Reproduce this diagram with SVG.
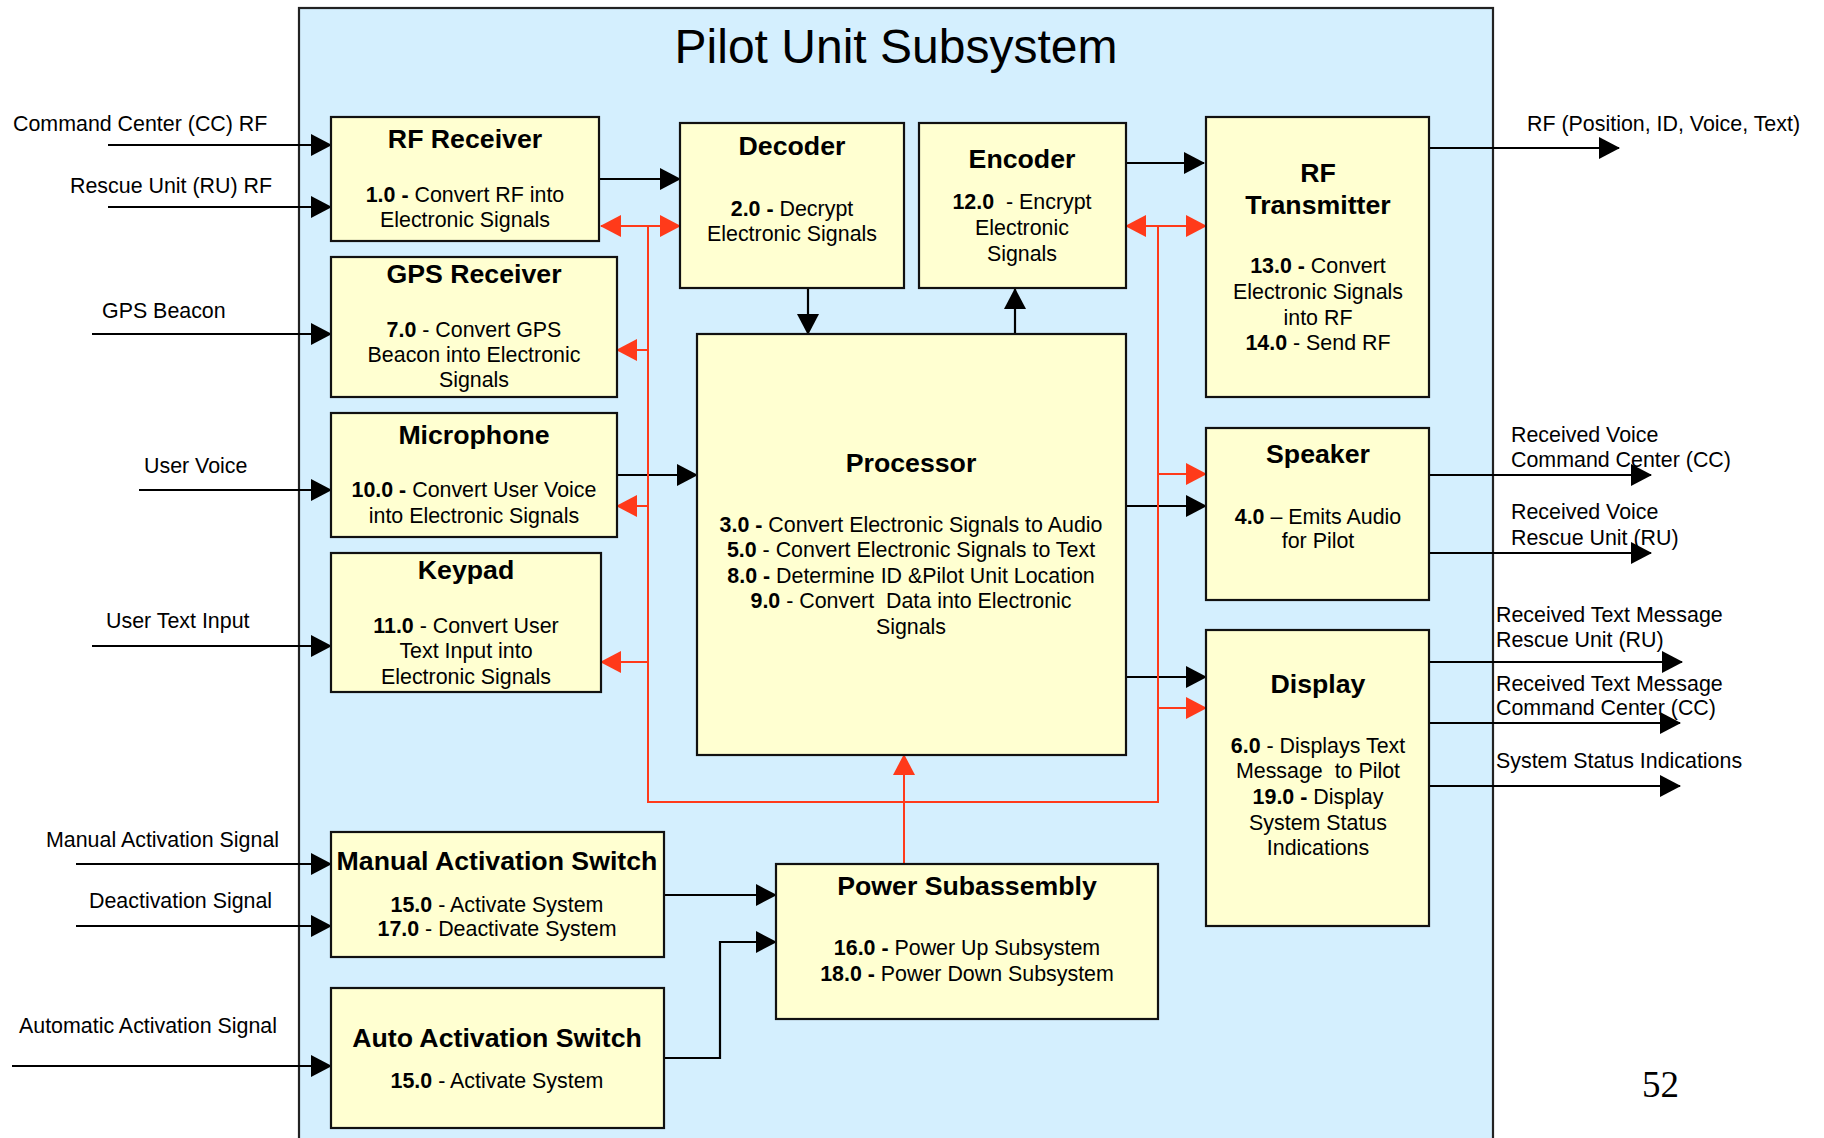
<svg xmlns="http://www.w3.org/2000/svg" width="1824" height="1138" viewBox="0 0 1824 1138">
  <style>
    text { font-family: "Liberation Sans", Arial, sans-serif; font-size: 21.4px; fill: #000; white-space: pre; }
    .c { text-anchor: middle; }
    .t { font-weight: bold; font-size: 26.7px; }
    .b { font-weight: bold; }
    .box { fill: #FFFFD1; stroke: #111; stroke-width: 2.2; }
    .ln { fill: none; stroke: #000; stroke-width: 2.2; }
    .rd { fill: none; stroke: #FF3A1A; stroke-width: 2; }
  </style>
  <defs>
    <marker id="ah" markerUnits="userSpaceOnUse" markerWidth="21" markerHeight="22" refX="20" refY="11" orient="auto-start-reverse">
      <path d="M0,0 L21,11 L0,22 z" fill="#000"/>
    </marker>
    <marker id="rh" markerUnits="userSpaceOnUse" markerWidth="21" markerHeight="22" refX="20" refY="11" orient="auto-start-reverse">
      <path d="M0,0 L21,11 L0,22 z" fill="#FF3A1A"/>
    </marker>
  </defs>

  <rect width="1824" height="1138" fill="#fff"/>

  <!-- subsystem frame -->
  <g id="frame">
    <rect x="299" y="8" width="1194" height="1150" fill="#D4EFFE" stroke="#222" stroke-width="2.2"/>
    <text x="896" y="63" class="c" style="font-size:48px">Pilot Unit Subsystem</text>
  </g>

  <!-- connectors -->
  <g id="connectors">
    <g class="ln" marker-end="url(#ah)">
      <path d="M108,145 H331"/>
      <path d="M108,207 H331"/>
      <path d="M92,334 H331"/>
      <path d="M139,490 H331"/>
      <path d="M92,646 H331"/>
      <path d="M76,864 H331"/>
      <path d="M76,926 H331"/>
      <path d="M12,1066 H331"/>
      <path d="M600,179 H680"/>
      <path d="M808,288 V334"/>
      <path d="M1015,334 V289"/>
      <path d="M1127,163 H1204"/>
      <path d="M1429,148 H1619"/>
      <path d="M617,475 H697"/>
      <path d="M1126,506 H1206"/>
      <path d="M1126,677 H1206"/>
      <path d="M1429,475 H1651"/>
      <path d="M1429,553 H1651"/>
      <path d="M1429,662 H1682"/>
      <path d="M1429,723 H1680"/>
      <path d="M1429,786 H1680"/>
      <path d="M664,895 H776"/>
      <path d="M664,1058 H720 V942 H776"/>
    </g>
    <!-- power distribution bus -->
    <g class="rd">
      <path d="M648,226 V802 H1158 V226"/>
      <path d="M601,226 H680" marker-start="url(#rh)" marker-end="url(#rh)"/>
      <path d="M1126,226 H1206" marker-start="url(#rh)" marker-end="url(#rh)"/>
      <path d="M648,350 H617" marker-end="url(#rh)"/>
      <path d="M648,506 H617" marker-end="url(#rh)"/>
      <path d="M648,662 H601" marker-end="url(#rh)"/>
      <path d="M1158,474 H1206" marker-end="url(#rh)"/>
      <path d="M1158,708 H1206" marker-end="url(#rh)"/>
      <path d="M904,864 V755" marker-end="url(#rh)"/>
    </g>
  </g>

  <!-- external signal labels -->
  <g id="labels">
    <text x="13" y="131">Command Center (CC) RF</text>
    <text x="70" y="193">Rescue Unit (RU) RF</text>
    <text x="102" y="318">GPS Beacon</text>
    <text x="144" y="473">User Voice</text>
    <text x="106" y="628">User Text Input</text>
    <text x="46" y="847">Manual Activation Signal</text>
    <text x="89" y="908">Deactivation Signal</text>
    <text x="19" y="1033">Automatic Activation Signal</text>
    <text x="1527" y="131">RF (Position, ID, Voice, Text)</text>
    <text x="1511" y="442">Received Voice</text>
    <text x="1511" y="467">Command Center (CC)</text>
    <text x="1511" y="519">Received Voice</text>
    <text x="1511" y="545">Rescue Unit (RU)</text>
    <text x="1496" y="622">Received Text Message</text>
    <text x="1496" y="647">Rescue Unit (RU)</text>
    <text x="1496" y="691">Received Text Message</text>
    <text x="1496" y="715">Command Center (CC)</text>
    <text x="1496" y="768">System Status Indications</text>
    <text x="1642" y="1097" style="font-family:'Liberation Serif','Times New Roman',serif;font-size:37px">52</text>
  </g>

  <g id="rf-receiver">
    <rect class="box" x="331" y="117" width="268" height="124"/>
    <text class="c t" x="465" y="148">RF Receiver</text>
    <text class="c" x="465" y="202"><tspan class="b">1.0 -</tspan> Convert RF into</text>
    <text class="c" x="465" y="227">Electronic Signals</text>
  </g>

  <g id="gps-receiver">
    <rect class="box" x="331" y="257" width="286" height="140"/>
    <text class="c t" x="474" y="283">GPS Receiver</text>
    <text class="c" x="474" y="337"><tspan class="b">7.0</tspan> - Convert GPS</text>
    <text class="c" x="474" y="362">Beacon into Electronic</text>
    <text class="c" x="474" y="387">Signals</text>
  </g>

  <g id="microphone">
    <rect class="box" x="331" y="413" width="286" height="124"/>
    <text class="c t" x="474" y="444">Microphone</text>
    <text class="c" x="474" y="497"><tspan class="b">10.0 -</tspan> Convert User Voice</text>
    <text class="c" x="474" y="523">into Electronic Signals</text>
  </g>

  <g id="keypad">
    <rect class="box" x="331" y="553" width="270" height="139"/>
    <text class="c t" x="466" y="579">Keypad</text>
    <text class="c" x="466" y="633"><tspan class="b">11.0</tspan> - Convert User</text>
    <text class="c" x="466" y="658">Text Input into</text>
    <text class="c" x="466" y="684">Electronic Signals</text>
  </g>

  <g id="decoder">
    <rect class="box" x="680" y="123" width="224" height="165"/>
    <text class="c t" x="792" y="155">Decoder</text>
    <text class="c" x="792" y="216"><tspan class="b">2.0 -</tspan> Decrypt</text>
    <text class="c" x="792" y="241">Electronic Signals</text>
  </g>

  <g id="encoder">
    <rect class="box" x="919" y="123" width="207" height="165"/>
    <text class="c t" x="1022" y="168">Encoder</text>
    <text class="c" x="1022" y="209"><tspan class="b">12.0</tspan>  - Encrypt</text>
    <text class="c" x="1022" y="235">Electronic</text>
    <text class="c" x="1022" y="261">Signals</text>
  </g>

  <g id="rf-transmitter">
    <rect class="box" x="1206" y="117" width="223" height="280"/>
    <text class="c t" x="1318" y="182">RF</text>
    <text class="c t" x="1318" y="214">Transmitter</text>
    <text class="c" x="1318" y="273"><tspan class="b">13.0 -</tspan> Convert</text>
    <text class="c" x="1318" y="299">Electronic Signals</text>
    <text class="c" x="1318" y="325">into RF</text>
    <text class="c" x="1318" y="350"><tspan class="b">14.0</tspan> - Send RF</text>
  </g>

  <g id="processor">
    <rect class="box" x="697" y="334" width="429" height="421"/>
    <text class="c t" x="911" y="472">Processor</text>
    <text class="c" x="911" y="532"><tspan class="b">3.0 -</tspan> Convert Electronic Signals to Audio</text>
    <text class="c" x="911" y="557"><tspan class="b">5.0</tspan> - Convert Electronic Signals to Text</text>
    <text class="c" x="911" y="583"><tspan class="b">8.0 -</tspan> Determine ID &amp;Pilot Unit Location</text>
    <text class="c" x="911" y="608"><tspan class="b">9.0</tspan> - Convert  Data into Electronic</text>
    <text class="c" x="911" y="634">Signals</text>
  </g>

  <g id="speaker">
    <rect class="box" x="1206" y="428" width="223" height="172"/>
    <text class="c t" x="1318" y="463">Speaker</text>
    <text class="c" x="1318" y="524"><tspan class="b">4.0</tspan> – Emits Audio</text>
    <text class="c" x="1318" y="548">for Pilot</text>
  </g>

  <g id="display">
    <rect class="box" x="1206" y="630" width="223" height="296"/>
    <text class="c t" x="1318" y="693">Display</text>
    <text class="c" x="1318" y="753"><tspan class="b">6.0</tspan> - Displays Text</text>
    <text class="c" x="1318" y="778">Message  to Pilot</text>
    <text class="c" x="1318" y="804"><tspan class="b">19.0 -</tspan> Display</text>
    <text class="c" x="1318" y="830">System Status</text>
    <text class="c" x="1318" y="855">Indications</text>
  </g>

  <g id="manual-activation-switch">
    <rect class="box" x="331" y="832" width="333" height="125"/>
    <text class="c t" x="497" y="870">Manual Activation Switch</text>
    <text class="c" x="497" y="912"><tspan class="b">15.0</tspan> - Activate System</text>
    <text class="c" x="497" y="936"><tspan class="b">17.0</tspan> - Deactivate System</text>
  </g>

  <g id="auto-activation-switch">
    <rect class="box" x="331" y="988" width="333" height="140"/>
    <text class="c t" x="497" y="1047">Auto Activation Switch</text>
    <text class="c" x="497" y="1088"><tspan class="b">15.0</tspan> - Activate System</text>
  </g>

  <g id="power-subassembly">
    <rect class="box" x="776" y="864" width="382" height="155"/>
    <text class="c t" x="967" y="895">Power Subassembly</text>
    <text class="c" x="967" y="955"><tspan class="b">16.0 -</tspan> Power Up Subsystem</text>
    <text class="c" x="967" y="981"><tspan class="b">18.0 -</tspan> Power Down Subsystem</text>
  </g>
</svg>
